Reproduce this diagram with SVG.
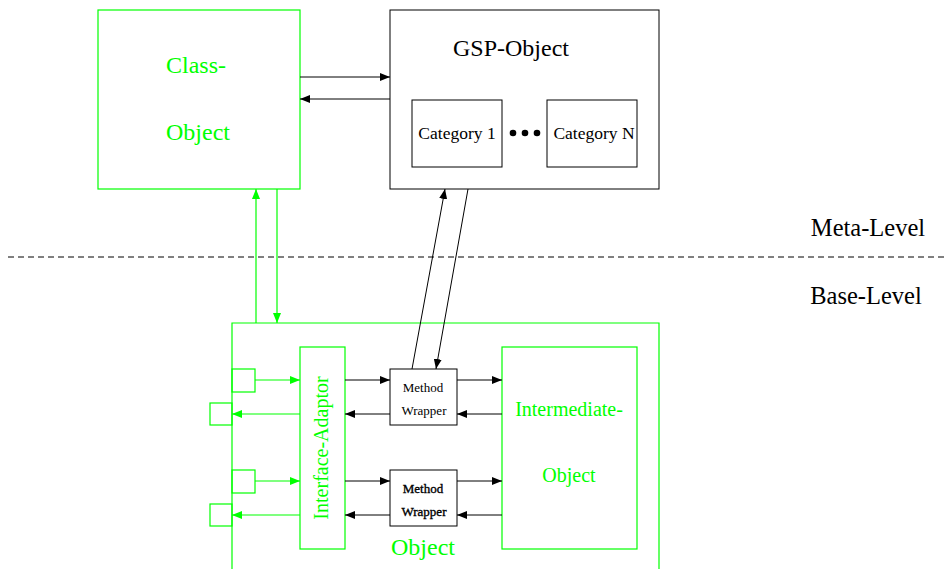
<svg xmlns="http://www.w3.org/2000/svg" width="945" height="569" viewBox="0 0 945 569">
<style>
.g{fill:none;stroke:#00ff00;stroke-width:1.2}
.k{fill:none;stroke:#000;stroke-width:1}
.gl{stroke:#00ff00;stroke-width:1.2;fill:none}
.kl{stroke:#000;stroke-width:1;fill:none}
.t{font-family:"Liberation Serif","Times New Roman",serif;text-anchor:middle}
.tg{fill:#00ff00}
.tk{fill:#000}
</style>
<defs>
<marker id="ak" viewBox="0 0 10 8" refX="10" refY="4" markerWidth="10" markerHeight="8" markerUnits="userSpaceOnUse" orient="auto"><path d="M0,0L10,4L0,8z" fill="#000"/></marker>
<marker id="ag" viewBox="0 0 10 8" refX="10" refY="4" markerWidth="10" markerHeight="8" markerUnits="userSpaceOnUse" orient="auto"><path d="M0,0L10,4L0,8z" fill="#00ff00"/></marker>
</defs>
<rect width="945" height="569" fill="#fff"/>
<g id="levels">
<line x1="8" y1="257" x2="945" y2="257" stroke="#000" stroke-width="1" stroke-dasharray="6,4"/>
<text class="t tk" x="868" y="236" font-size="24.5">Meta-Level</text>
<text class="t tk" x="866" y="304" font-size="24.5">Base-Level</text>
</g>
<g id="class-object">
<rect class="g" x="98" y="10" width="202" height="179"/>
<text class="t tg" x="196" y="73" font-size="24">Class-</text>
<text class="t tg" x="198" y="140" font-size="24">Object</text>
</g>
<g id="gsp-object">
<rect class="k" x="390" y="10" width="269" height="179"/>
<text class="t tk" x="511" y="56" font-size="24">GSP-Object</text>
</g>
<g id="category-1">
<rect class="k" x="412" y="100" width="90" height="67"/>
<text class="t tk" x="457" y="139" font-size="17.5">Category 1</text>
</g>
<g id="dots">
<circle cx="513" cy="133" r="3.3" fill="#000"/>
<circle cx="525" cy="133" r="3.3" fill="#000"/>
<circle cx="537" cy="133" r="3.3" fill="#000"/>
</g>
<g id="category-n">
<rect class="k" x="547" y="100" width="90" height="67"/>
<text class="t tk" x="594" y="139" font-size="17.5">Category N</text>
</g>
<g id="object">
<polyline class="g" points="232,569 232,323 659,323 659,569"/>
<text class="t tg" x="423" y="555" font-size="24">Object</text>
</g>
<g id="ports">
<rect class="g" x="232" y="369" width="23" height="23"/>
<rect class="g" x="210" y="403" width="22" height="22"/>
<rect class="g" x="232" y="470" width="23" height="23"/>
<rect class="g" x="210" y="504" width="22" height="22"/>
</g>
<g id="interface-adaptor">
<rect class="g" x="300" y="347" width="45" height="202"/>
<text class="t tg" transform="translate(328,448) rotate(-90)" font-size="20">Interface-Adaptor</text>
</g>
<g id="method-wrapper-1">
<rect class="k" x="390" y="369" width="67" height="56"/>
<text class="t tk" x="423" y="392" font-size="13">Method</text>
<text class="t tk" x="424" y="415" font-size="13">Wrapper</text>
</g>
<g id="method-wrapper-2">
<rect class="k" x="390" y="470" width="67" height="56"/>
<text class="t tk" x="423" y="493" font-size="13" stroke="#000" stroke-width="0.35">Method</text>
<text class="t tk" x="424" y="516" font-size="13" stroke="#000" stroke-width="0.35">Wrapper</text>
</g>
<g id="intermediate-object">
<rect class="g" x="502" y="347" width="135" height="202"/>
<text class="t tg" x="569" y="416" font-size="20">Intermediate-</text>
<text class="t tg" x="569" y="482" font-size="20">Object</text>
</g>
<g id="connectors">
<line class="kl" x1="300" y1="77" x2="390" y2="77" marker-end="url(#ak)"/>
<line class="kl" x1="390" y1="99" x2="300" y2="99" marker-end="url(#ak)"/>
<line class="gl" x1="256" y1="323" x2="256" y2="189" marker-end="url(#ag)"/>
<line class="gl" x1="277" y1="189" x2="277" y2="323" marker-end="url(#ag)"/>
<line class="kl" x1="412" y1="369" x2="445" y2="189" marker-end="url(#ak)"/>
<line class="kl" x1="468" y1="189" x2="436" y2="369" marker-end="url(#ak)"/>
<line class="gl" x1="255" y1="380" x2="300" y2="380" marker-end="url(#ag)"/>
<line class="gl" x1="300" y1="414" x2="232" y2="414" marker-end="url(#ag)"/>
<line class="gl" x1="255" y1="481" x2="300" y2="481" marker-end="url(#ag)"/>
<line class="gl" x1="300" y1="515" x2="232" y2="515" marker-end="url(#ag)"/>
<line class="kl" x1="345" y1="380" x2="390" y2="380" marker-end="url(#ak)"/>
<line class="kl" x1="390" y1="414" x2="345" y2="414" marker-end="url(#ak)"/>
<line class="kl" x1="457" y1="380" x2="502" y2="380" marker-end="url(#ak)"/>
<line class="kl" x1="502" y1="414" x2="457" y2="414" marker-end="url(#ak)"/>
<line class="kl" x1="345" y1="481" x2="390" y2="481" marker-end="url(#ak)"/>
<line class="kl" x1="390" y1="515" x2="345" y2="515" marker-end="url(#ak)"/>
<line class="kl" x1="457" y1="481" x2="502" y2="481" marker-end="url(#ak)"/>
<line class="kl" x1="502" y1="515" x2="457" y2="515" marker-end="url(#ak)"/>
</g>
</svg>
